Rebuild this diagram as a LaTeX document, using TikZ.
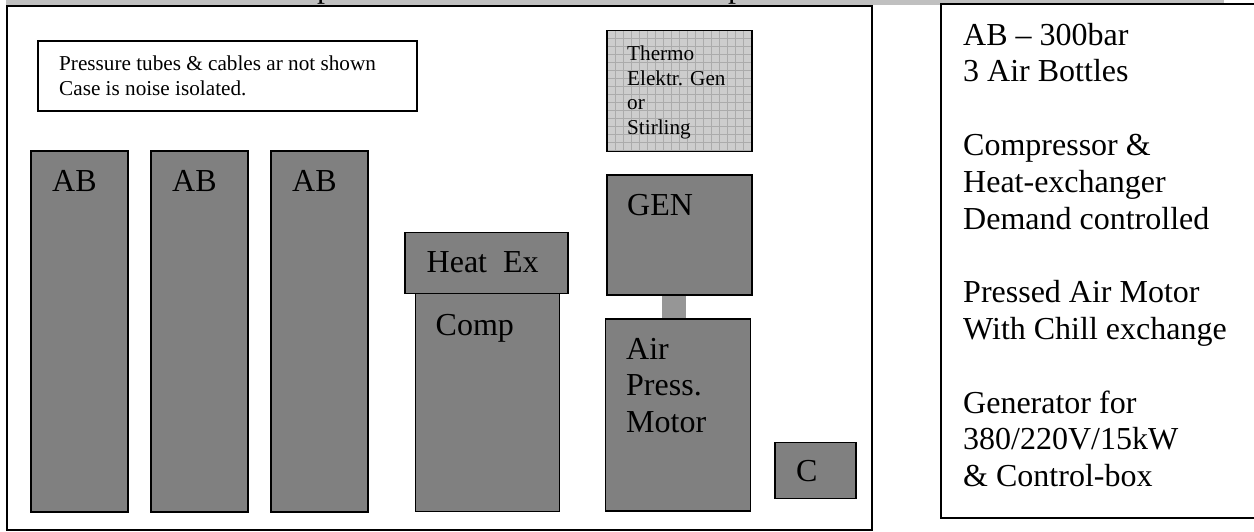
\documentclass[tikz,border=0pt]{standalone}
\usepackage{fontspec}
\setmainfont{Liberation Serif}
\definecolor{StripGray}{HTML}{C0C0C0}
\definecolor{UnitGray}{HTML}{808080}
\definecolor{LinkGray}{HTML}{969696}
\definecolor{MeshGray}{HTML}{CDCDCD}
\definecolor{MeshLine}{HTML}{ABABAB}
\tikzset{
  unitbox/.style={draw=black, line width=1.5pt, fill=UnitGray, inner sep=0pt, outer sep=0pt, anchor=north west},
  framebox/.style={draw=black, line width=1.5pt, fill=white, inner sep=0pt, outer sep=0pt, anchor=north west},
  unitlabel/.style={anchor=base west, inner sep=0pt, align=left, font=\fontsize{32}{36.8}\selectfont},
  smalllabel/.style={anchor=base west, inner sep=0pt, align=left, font=\fontsize{21.2}{24.5}\selectfont},
}

\begin{document}
\begin{tikzpicture}[x=1pt,y=-1pt]
  \useasboundingbox (0,0) rectangle (1254,531);
  \fill[white] (0,0) rectangle (1254,531);
  \fill[StripGray] (6,0) rectangle (1224,5);
  % cut off heading
  \begin{scope}
    \clip (0,0) rectangle (1254,5);
    \node[unitlabel] (headl) at (317,-3) {p};
    \node[unitlabel] (headr) at (728,-3) {p};
  \end{scope}
  \node[framebox, minimum width=865pt, minimum height=524pt] (casebox) at (7,6) {};
  \node[framebox, minimum width=314pt, minimum height=514pt] (infobox) at (941,4) {};
  \node[framebox, minimum width=379pt, minimum height=70pt] (notebox) at (38,41) {};
  \node[smalllabel] (notetext) at (59,95) {Pressure tubes \& cables ar not shown\\Case is noise isolated.};
  % bottles
  \foreach \n/\x in {a/31,b/151,c/271} {
    \node[unitbox, minimum width=97pt, minimum height=361pt] (bottle\n) at (\x,151) {};
    \node[unitlabel] (bottletext\n) at (\x+21,191.7) {AB};
  }
  \node[unitbox, minimum width=144pt, minimum height=218pt] (compbox) at (415.5,293.5) {};
  \node[unitbox, minimum width=163pt, minimum height=61pt] (heatbox) at (405,232.5) {};
  \node[unitlabel] (heattext) at (426.5,272.7) {Heat\ \ Ex};
  \node[unitlabel] (comptext) at (435.5,335) {Comp};
  % generator group
  \node[draw=black, line width=1.5pt, fill=MeshGray, inner sep=0pt, outer sep=0pt, anchor=north west, minimum width=145pt, minimum height=121pt] (thermobox) at (607,30.5) {};
  \draw[MeshLine, line width=.5pt, step=8pt, shift={(607,30.5)}] (0.75,0.75) grid (144.25,120.25);
  \draw[black, line width=1.5pt] (thermobox.north west) rectangle (thermobox.south east);
  \node[smalllabel] (thermotext) at (627,134) {Thermo\\Elektr. Gen\\or\\Stirling};
  \node[unitbox, minimum width=145pt, minimum height=120pt] (genbox) at (607,175) {};
  \node[unitlabel] (gentext) at (627,215.7) {GEN};
  \fill[LinkGray] (662,295.7) rectangle (686,319);
  \node[unitbox, minimum width=145pt, minimum height=192pt] (motorbox) at (605.7,319) {};
  \node[unitlabel] (motortext) at (626,432.7) {Air\\Press.\\Motor};
  \node[unitbox, minimum width=81pt, minimum height=56pt] (ctrlbox) at (775,442.3) {};
  \node[unitlabel] (ctrltext) at (796,481.7) {C};
  \node[unitlabel] (infotext) at (963,486.7) {AB -- 300bar\\3 Air Bottles\\[36.8pt]Compressor \&\\Heat-exchanger\\Demand controlled\\[36.8pt]Pressed Air Motor\\With Chill exchange\\[36.8pt]Generator for\\380/220V/15kW\\\& Control-box};
\end{tikzpicture}
\end{document}
